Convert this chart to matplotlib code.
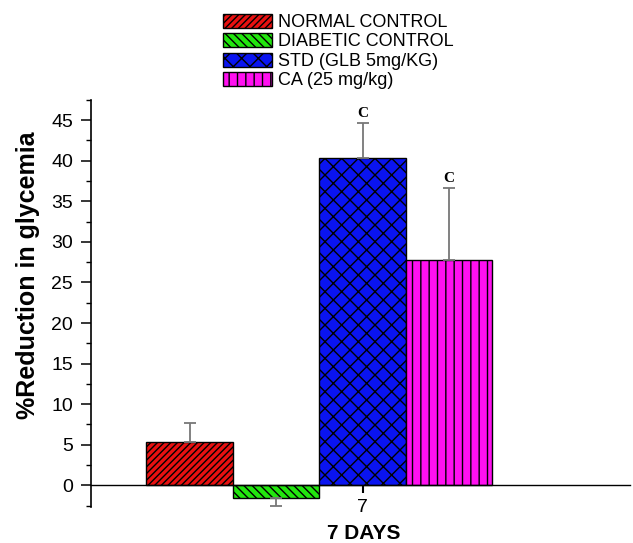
import matplotlib
matplotlib.use("Agg")
import matplotlib.pyplot as plt
import numpy as np

# values
groups = ["NORMAL CONTROL", "DIABETIC CONTROL", "STD (GLB 5mg/KG)", "CA (25 mg/kg)"]
means = [5.3, -1.6, 40.4, 27.8]
errs = [2.4, 1.0, 4.2, 8.8]
marks = ["", "", "C", "C"]
colors = ["#e81010", "#22e60e", "#0a14f0", "#ff10f0"]
hatches = ["/////", "\\\\\\\\", "xx", "||"]
day_label = "7"

plt.rcParams['font.family'] = ['Liberation Sans', 'DejaVu Sans']
plt.rcParams['hatch.linewidth'] = 1.0

fig = plt.figure(figsize=(6.33, 5.43), dpi=100)
ax = fig.add_axes([0.1438, 0.066, 0.851, 0.75])

x = np.arange(len(means))
for i in range(len(means)):
    lo = errs[i] if means[i] < 0 else 0
    hi = errs[i] if means[i] >= 0 else 0
    ax.bar(x[i], means[i], width=1.0, color=colors[i], edgecolor='black',
           linewidth=1.0, hatch=hatches[i], label=groups[i],
           yerr=[[lo], [hi]], error_kw=dict(ecolor='#777777', elinewidth=1.3,
                                           capsize=4, capthick=1.3), zorder=2)
    if marks[i]:
        ax.text(x[i], means[i] + errs[i] + 0.4, marks[i], ha='center', va='bottom',
                fontsize=11, fontweight='bold', family='Liberation Serif')

ax.set_xlim(-1.14, 5.09)
ax.set_ylim(-2.7, 47.3)
ax.set_yticks(np.arange(0, 46, 5))
ax.set_yticks(np.arange(-2.5, 48, 5), minor=True)
ax.set_xticks([2])
ax.set_xticklabels([day_label])

ax.spines['top'].set_visible(False)
ax.spines['right'].set_visible(False)
ax.spines['bottom'].set_position(('data', 0))
ax.spines['left'].set_linewidth(1.2)
ax.spines['bottom'].set_linewidth(1.0)

ax.tick_params(axis='y', which='major', length=7, width=1.1, labelsize=14, direction='out', pad=6)
ax.tick_params(axis='y', which='minor', length=3.5, width=1.0)
ax.tick_params(axis='x', length=6, width=1.5, labelsize=14, pad=4)

ax.set_ylabel("%Reduction in glycemia", fontsize=18, fontweight='bold')
ax.yaxis.set_label_coords(-0.095, 0.57)
fig.text(0.574, 0.0, "7 DAYS", ha='center', va='bottom', fontsize=15, fontweight='bold')

fig.legend(*ax.get_legend_handles_labels(), loc='upper left',
           bbox_to_anchor=(0.332, 0.998), frameon=False, fontsize=13,
           handlelength=2.7, handleheight=0.8, handletextpad=0.35, labelspacing=0.13,
           borderpad=0.2)

plt.savefig("out.png", dpi=100)
